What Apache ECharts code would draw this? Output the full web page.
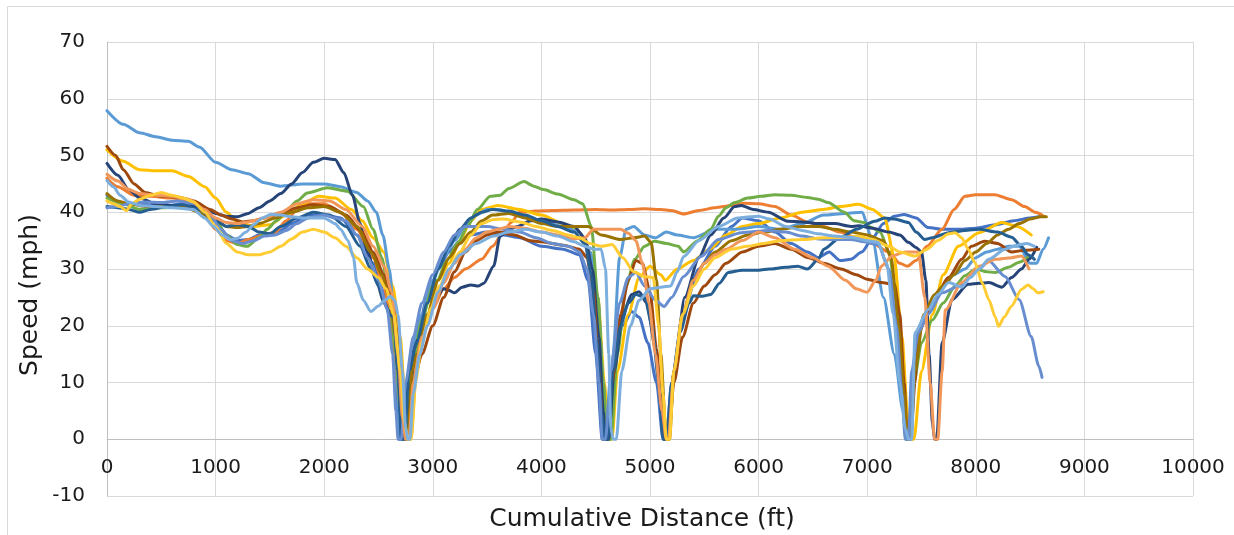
<!DOCTYPE html>
<html>
<head>
<meta charset="utf-8">
<script src="https://cdn.jsdelivr.net/npm/echarts@6/dist/echarts.min.js"></script>
<style>
html,body{margin:0;padding:0;background:#fff;}
#chart{width:1234px;height:535px;}
</style>
</head>
<body>
<div id="chart"></div>
<script>
// ---- Data (cumulative distance ft, speed mph) ----
const xTicks = [0,1000,2000,3000,4000,5000,6000,7000,8000,9000,10000];
const yTicks = [-10,0,10,20,30,40,50,60,70];
const seriesNames = ["Run 1","Run 2","Run 3","Run 4","Run 5","Run 6","Run 7","Run 8","Run 9","Run 10","Run 11","Run 12","Run 13"];
const seriesColors = ["#4472C4","#ED7D31","#FFC000","#5B9BD5","#70AD47","#264478","#9E480E","#997300","#255E91","#698ED0","#F1975A","#FFCD33","#7CAFDD"];

const run1 = [[0,43],[150,41.5],[300,41.5],[500,41],[700,41.5],[850,40.5],[1000,38.5],[1100,36],[1200,35],[1300,35.2],[1400,36],[1500,36.2],[1600,36.8],[1700,38],[1850,39.5],[2000,39.5],[2150,39],[2300,36],[2450,31],[2550,26],[2620,20],[2660,10],[2690,0],[2720,0],[2760,10],[2850,18],[2950,25],[3050,30],[3150,33],[3250,35],[3350,36],[3500,36.5],[3650,36],[3800,35.5],[4000,34],[4200,33.5],[4350,32.5],[4430,28],[4500,15],[4560,0],[4600,0],[4650,12],[4750,20],[4830,22.5],[4900,21.5],[4980,17],[5060,10],[5120,0],[5150,0],[5200,10],[5300,22],[5450,30],[5600,34],[5750,37.5],[5850,39],[6000,38.5],[6150,36.5],[6300,34.5],[6450,33],[6550,32],[6650,33],[6750,31.5],[6850,31.7],[6950,33],[7050,35.5],[7150,38],[7250,39.3],[7340,39.6],[7450,39],[7560,37.3],[7700,37],[7850,37],[8000,37.2],[8180,37.8],[8350,38.5],[8500,39],[8600,39.3]];

const run2 = [[0,46],[100,44.5],[250,43],[400,42.8],[600,42.5],[750,42],[900,39.5],[1000,37],[1100,35],[1200,34.5],[1300,35.2],[1450,36],[1550,36.5],[1650,38.5],[1750,40.5],[1850,41.5],[2000,41.5],[2150,40],[2300,37],[2450,32],[2550,27],[2620,20],[2680,8],[2720,0],[2750,0],[2800,10],[2900,18],[3000,23],[3100,26.5],[3200,28.5],[3300,30],[3450,31.7],[3550,34],[3650,36.5],[3720,38.2],[3800,40],[3950,40.2],[4100,40.3],[4300,40.4],[4500,40.5],[4650,40.4],[4800,40.5],[4950,40.6],[5100,40.5],[5200,40.3],[5310,39.7],[5450,40.3],[5600,40.8],[5750,41.2],[5870,41.6],[6000,41.5],[6150,41],[6300,39.5],[6450,38.3],[6600,37.5],[6750,36.5],[6900,35.5],[7050,34.5],[7200,33],[7300,31],[7370,30.5],[7450,31.5],[7550,34],[7690,37],[7800,40.5],[7900,42.8],[8000,43.1],[8175,43.1],[8330,42.2],[8450,41],[8550,40],[8625,39.3]];

const run3 = [[0,51],[150,49],[300,47.5],[450,47.3],[600,47.3],[750,46.3],[900,44.5],[1000,42.5],[1100,40],[1200,38.3],[1350,37.5],[1500,37.8],[1650,39.5],[1800,41.5],[1950,42.8],[2100,42.5],[2250,40.5],[2350,38.5],[2450,35.5],[2550,33],[2630,27],[2700,18],[2750,5],[2780,0],[2800,0],[2850,12],[2950,22],[3050,28],[3150,31],[3250,35],[3350,38.5],[3450,40.5],[3600,41.2],[3800,40.5],[4000,39.5],[4200,38],[4350,36.5],[4450,33],[4520,25],[4580,10],[4620,0],[4650,0],[4700,12],[4800,22],[4900,28.5],[5000,30.5],[5100,29],[5140,28],[5250,30],[5400,31.5],[5550,33.5],[5700,36],[5850,37.5],[6000,38],[6200,39],[6400,40],[6600,40.5],[6750,41],[6920,41.4],[7050,40.5],[7160,39],[7250,32],[7320,18],[7370,5],[7400,0],[7430,0],[7500,12],[7600,22],[7700,29],[7840,34],[8030,36.4],[8240,38.2],[8380,37.5],[8510,36]];

const run4 = [[0,57.9],[150,55.5],[300,54],[450,53.3],[600,52.7],[750,52.5],[850,51.5],[1000,48.8],[1150,47.5],[1300,46.8],[1450,45.2],[1600,44.6],[1800,45],[2000,45],[2150,44.5],[2300,43.5],[2400,42],[2480,40],[2540,36],[2600,30],[2650,20],[2680,8],[2700,0],[2720,0],[2750,8],[2800,15],[2900,22],[3000,28],[3100,32],[3200,35],[3300,37.5],[3400,39.5],[3500,40.5],[3600,40.5],[3800,39.5],[4000,38.5],[4200,37.5],[4350,36.5],[4450,33],[4520,25],[4570,10],[4600,0],[4630,0],[4660,15],[4720,32],[4780,37],[4850,37.5],[4950,36],[5050,35.5],[5150,36.5],[5250,36],[5400,35.5],[5600,37],[5800,37],[6000,37.5],[6200,37],[6400,38],[6600,39.5],[6800,39.8],[6950,40],[7050,35],[7150,25],[7250,15],[7330,5],[7370,0],[7400,0],[7430,10],[7500,20],[7600,24],[7700,27],[7800,29],[7900,30],[8000,32],[8100,33],[8200,33.5],[8300,34],[8400,34],[8500,31],[8560,31],[8620,33.5],[8670,35.5]];

const run5 = [[0,42.5],[150,41.5],[300,40.5],[500,40.8],[700,41],[850,40.5],[1000,38.5],[1100,36],[1200,34.3],[1290,34],[1400,35.5],[1475,37],[1560,38.5],[1660,40.5],[1750,42],[1845,43.4],[2030,44.3],[2215,43.7],[2360,41],[2450,37],[2530,32],[2600,25],[2660,15],[2700,5],[2730,0],[2760,0],[2800,12],[2900,21],[3000,27],[3040,28],[3130,31.5],[3230,34.6],[3320,37.5],[3410,40.5],[3530,42.8],[3620,43],[3700,44.2],[3840,45.4],[3930,44.6],[4020,44],[4150,43.2],[4300,42.2],[4380,41.5],[4460,37.5],[4520,25],[4570,10],[4610,0],[4640,0],[4700,15],[4780,27],[4860,31.7],[4950,34],[5040,34.9],[5150,34.5],[5260,34],[5310,33],[5440,35],[5560,37],[5630,39.3],[5700,40.8],[5780,41.7],[5900,42.5],[6020,42.8],[6150,43.1],[6300,43],[6450,42.6],[6550,42.3],[6640,41.7],[6790,40],[6880,38.5],[6970,38.2],[7040,37.3],[7120,36.5],[7200,33],[7270,25],[7320,12],[7360,0],[7390,0],[7430,10],[7500,17],[7600,21],[7700,24],[7810,27],[7900,28.8],[8000,30],[8100,29.5],[8180,29.4],[8300,30.3],[8400,31.2],[8490,32.2]];

const run6 = [[0,48.6],[100,46.5],[200,44],[300,42.5],[450,41.5],[600,41.2],[750,41.3],[900,40.5],[1000,39.8],[1100,39.3],[1200,39.2],[1300,39.8],[1400,40.8],[1500,42],[1600,43.3],[1700,45],[1800,47],[1900,48.8],[2000,49.5],[2100,49.3],[2180,47],[2260,43],[2330,38],[2400,33],[2480,28],[2550,24],[2600,22.5],[2640,22],[2680,12],[2710,3],[2740,0],[2770,0],[2800,10],[2830,16],[2860,17.5],[2900,17.5],[2950,21],[3030,25],[3100,26.5],[3150,26.2],[3200,25.8],[3270,26.8],[3350,27.2],[3420,27],[3470,27.5],[3560,30.5],[3620,35.8],[3700,37],[3780,37.5],[3900,38.5],[4000,38.8],[4150,38.3],[4300,37.5],[4400,35.5],[4470,30],[4530,18],[4570,5],[4590,0],[4620,0],[4670,12],[4750,22],[4830,25.5],[4900,26],[4970,24],[5050,16],[5110,5],[5140,0],[5170,0],[5220,12],[5320,25],[5450,32],[5560,36],[5680,39],[5780,41],[5840,41.2],[5950,40.5],[6090,40],[6270,38.4],[6400,38.3],[6550,38],[6700,38],[6850,37.5],[6920,37.6],[7050,37.2],[7200,36.5],[7300,36],[7380,34.7],[7450,33.8],[7500,33],[7540,28],[7570,15],[7600,3],[7620,0],[7640,0],[7690,17],[7780,24.6],[7930,27.3],[8030,27.5],[8120,27.6],[8240,26.8],[8330,28.5],[8420,30],[8490,31.7],[8560,33.8]];

const run7 = [[0,51.6],[80,50],[150,47.5],[250,45],[350,43.5],[500,42.8],[650,42.7],[800,42],[950,40.5],[1050,39.5],[1150,38.8],[1250,38.3],[1350,38.5],[1450,39],[1600,39.8],[1750,40.8],[1900,41.3],[2050,41],[2200,39.5],[2350,36.5],[2450,33],[2550,29],[2620,25],[2680,18],[2720,8],[2750,0],[2780,0],[2820,10],[2900,15],[3000,20],[3100,25],[3200,29.5],[3300,33],[3400,35],[3500,36],[3600,36.5],[3750,36],[3900,35],[4000,34.8],[4200,34.2],[4350,33.5],[4420,32],[4480,26],[4530,12],[4570,0],[4600,0],[4650,10],[4730,22],[4800,28],[4870,31.5],[4930,31],[5000,26],[5060,16],[5110,5],[5140,0],[5170,0],[5220,10],[5300,18],[5400,24],[5500,27],[5600,29],[5700,31],[5850,33],[6000,34],[6150,34.5],[6300,33.5],[6460,32],[6600,31],[6760,30],[6900,29],[7000,28.2],[7130,27.6],[7250,27.3],[7300,22],[7340,10],[7370,0],[7400,0],[7440,10],[7470,18.8],[7600,24],[7750,28.5],[7870,31.7],[7960,34],[8080,34.9],[8200,34.5],[8330,33],[8450,33.3],[8580,33.5]];

const run8 = [[0,43.3],[100,42],[200,41.5],[350,41],[500,41],[700,41],[850,40],[1000,38.5],[1100,37.5],[1200,37.3],[1300,37.5],[1400,38],[1550,39],[1700,40],[1850,40.8],[2000,41],[2150,40],[2300,37.5],[2430,33],[2530,29],[2600,25],[2660,18],[2720,5],[2750,0],[2770,0],[2810,12],[2850,15],[2950,22],[3050,28],[3150,32],[3250,34.5],[3350,36.5],[3450,38.5],[3550,39.5],[3700,39.8],[3850,39],[4000,38],[4150,37.5],[4300,37.5],[4430,37.5],[4550,36],[4730,35.2],[4850,35.5],[4950,35.8],[5010,34.7],[5060,28],[5100,15],[5140,3],[5160,0],[5180,0],[5220,12],[5300,22],[5400,28],[5500,31],[5600,33],[5750,35],[5900,36],[6050,36.5],[6200,37],[6400,37.5],[6550,37.5],[6700,37],[6850,36.5],[7000,36],[7150,35],[7220,32],[7290,20],[7340,8],[7370,0],[7400,0],[7440,12],[7520,22],[7620,25.5],[7700,27],[7800,29],[7900,31.5],[8000,33],[8100,34.5],[8200,36],[8300,37],[8400,38],[8500,38.8],[8600,39.2],[8650,39.2]];

const run9 = [[0,41],[100,40.8],[200,40.5],[300,40],[400,40.5],[550,41],[700,41.3],[850,40.5],[1000,38.5],[1100,37.5],[1200,37.8],[1300,37.5],[1400,36.5],[1500,36.2],[1600,37.5],[1750,39],[1900,40],[2050,39.5],[2200,37.5],[2330,34],[2430,30],[2500,27],[2560,24],[2600,22],[2640,21.5],[2680,12],[2710,0],[2740,0],[2780,12],[2850,17],[2950,24],[3050,30],[3150,34],[3250,37],[3350,39],[3450,40],[3550,40.5],[3700,40.2],[3850,39.5],[4000,38.5],[4150,37.5],[4300,36.5],[4400,34.5],[4460,29],[4510,17],[4560,4],[4580,0],[4610,0],[4660,12],[4730,20],[4800,24],[4870,25.5],[4950,25],[5020,20],[5080,10],[5120,0],[5150,0],[5200,10],[5280,19],[5360,24],[5400,25.3],[5480,25.2],[5560,25.5],[5640,27.5],[5720,29.4],[5850,29.8],[6000,29.8],[6100,30],[6250,30.3],[6360,30.5],[6450,30],[6550,31.7],[6600,33.5],[6750,35.5],[6900,37],[7070,38.4],[7160,39],[7250,38.8],[7380,38.2],[7450,36.5],[7530,35.2],[7600,35.5],[7750,36.4],[7900,36.8],[8030,37],[8200,36.5],[8330,35.6],[8420,34],[8480,32.5],[8540,31.7]];

const run10 = [[0,40.8],[100,41],[200,41.5],[350,41.8],[500,41.7],[650,42],[800,41.5],[950,39.5],[1050,37],[1150,35],[1250,34.5],[1350,35],[1450,35.8],[1550,36],[1650,36.8],[1750,38],[1850,39],[2000,39.5],[2100,39],[2200,38.5],[2300,36],[2400,32],[2500,28],[2580,23],[2630,15],[2660,5],[2680,0],[2710,0],[2750,10],[2820,18],[2900,24],[3000,29],[3100,33],[3200,36],[3300,37.5],[3400,37.5],[3500,37.5],[3650,37],[3800,36.5],[3950,35.5],[4100,34.5],[4250,34],[4350,33],[4420,30],[4480,22],[4530,10],[4560,0],[4590,0],[4640,12],[4720,24],[4800,28.5],[4870,29.4],[4950,27],[5050,24.5],[5130,23.4],[5200,25],[5310,28.7],[5470,32.2],[5630,35.2],[5840,36.4],[6090,36.8],[6250,36.5],[6400,35.8],[6550,35.3],[6700,35.2],[6850,35.2],[6970,34.8],[7100,34.3],[7200,30],[7270,20],[7320,8],[7350,0],[7380,0],[7410,12],[7470,18.8],[7560,22],[7690,25.8],[7850,27],[8030,30],[8120,31.4],[8270,28.7],[8400,24.6],[8510,18.1],[8580,12.9],[8610,10.9]];

const run11 = [[0,46.7],[100,45.5],[200,44],[300,43.3],[450,43],[600,42.8],[750,42.3],[900,40.5],[1000,39],[1100,38.2],[1200,38],[1300,38.3],[1450,39],[1600,40],[1750,41.5],[1900,42.2],[2050,42],[2200,40.5],[2350,37.5],[2450,34],[2550,30.5],[2620,26],[2680,15],[2720,4],[2750,0],[2780,0],[2820,10],[2900,18],[3000,23],[3100,27.5],[3200,31],[3300,33.5],[3400,35.5],[3500,36.5],[3600,37],[3700,37.5],[3850,37.2],[4000,36.5],[4150,36],[4300,35.3],[4400,35.5],[4480,37],[4620,37],[4730,37],[4800,36.3],[4870,35],[4930,31],[4990,24],[5050,15],[5110,5],[5150,0],[5170,0],[5220,12],[5300,22],[5400,28],[5500,31],[5600,32.5],[5700,33.5],[5850,35],[6000,36.5],[6150,35.5],[6330,33.5],[6500,32],[6640,30.5],[6800,28],[6900,26.5],[7000,25.9],[7080,28],[7130,30.5],[7230,32.3],[7350,33],[7470,33],[7530,25],[7580,10],[7620,0],[7650,0],[7690,12],[7720,22.8],[7870,27.6],[8030,30.5],[8180,31.7],[8330,32],[8420,32.3],[8490,30]];

const run12 = [[0,42],[60,41.5],[120,41],[180,40.3],[230,41.5],[300,42.3],[400,43],[500,43.5],[600,43],[700,42.5],[800,41.8],[900,40],[1000,37.5],[1100,34.5],[1200,33],[1300,32.5],[1400,32.5],[1500,33],[1600,34],[1700,35.3],[1800,36.5],[1900,37],[2000,36.5],[2100,35.5],[2200,34],[2300,32],[2400,30],[2500,28.5],[2570,26.5],[2640,22],[2700,12],[2740,3],[2770,0],[2800,0],[2840,10],[2900,17],[2980,23],[3060,27],[3150,30],[3250,33],[3350,36],[3450,38],[3550,38.7],[3650,38.8],[3800,38.3],[3950,37.5],[4100,36.8],[4250,36],[4350,35.5],[4450,34.5],[4550,34],[4650,34.3],[4750,32],[4850,29.5],[4950,28.7],[5030,28.5],[5080,20],[5120,8],[5150,0],[5180,0],[5220,12],[5300,22],[5400,27],[5500,30],[5600,32],[5750,33.5],[5900,34],[6050,34.5],[6200,35],[6400,35.2],[6600,35.5],[6800,35.6],[6920,35.8],[7050,35.2],[7200,34],[7300,33],[7440,32.3],[7550,33.5],[7650,35],[7750,36.2],[7810,36.4],[7870,35.5],[7930,33.5],[7990,31.2],[8060,27.5],[8120,24.6],[8180,21.5],[8210,19.9],[8260,21.5],[8330,23.5],[8420,26.4],[8480,27.2],[8530,26.5],[8570,25.8],[8620,26]];

const run13 = [[0,45.6],[60,44.5],[120,43],[200,41.8],[300,41.2],[450,41],[600,40.8],[795,40.5],[900,39],[980,37.5],[1060,36],[1135,35.2],[1200,35.4],[1280,36.5],[1350,37.8],[1430,39],[1505,39.6],[1600,39.5],[1700,39.2],[1800,39],[1900,39],[2000,39],[2100,38],[2150,37],[2220,35],[2270,32],[2300,27.6],[2360,24.5],[2430,22.5],[2500,23.5],[2560,24.5],[2610,25.2],[2650,24.5],[2680,22],[2720,12],[2750,2],[2770,0],[2790,0],[2820,8],[2880,15],[2950,20],[3050,26],[3150,30],[3250,32.5],[3400,34.5],[3560,35.8],[3700,36.5],[3850,37],[4000,36.5],[4150,35.8],[4300,34.8],[4400,34],[4480,33.5],[4550,33.5],[4590,30],[4620,15],[4640,2],[4660,0],[4690,0],[4740,12],[4820,20],[4900,24.5],[5000,26.5],[5100,26.8],[5190,27],[5250,29.5],[5310,32.2],[5450,35],[5630,37.5],[5810,39],[6000,39.3],[6100,38.8],[6250,37.5],[6400,36.8],[6550,36.2],[6700,35.8],[6850,35.6],[7000,35],[7100,34.7],[7180,31],[7240,22],[7300,10],[7350,2],[7380,0],[7410,0],[7440,18.8],[7560,22.8],[7650,25.5],[7750,27.6],[7870,26.8],[7950,28.5],[8030,30],[8120,31.7],[8270,33.5],[8380,34.2],[8470,34.5],[8540,34]];

const runData = [run1,run2,run3,run4,run5,run6,run7,run8,run9,run10,run11,run12,run13];

// ---- Chart ----
const chart = echarts.init(document.getElementById('chart'), null, {renderer:'canvas'});
const FONT = '"DejaVu Sans", sans-serif';
const TEXT = '#1a1a1a';
const GRID_TOP = 42, GRID_BOTTOM = 39, CHART_H = 535;
const plotH = CHART_H - GRID_TOP - GRID_BOTTOM;
const yMin = yTicks[0], yMax = yTicks[yTicks.length - 1];
// distance (px) from the bottom of the plot up to the y = 0 line, where the x axis crosses
const zeroOffset = plotH * (0 - yMin) / (yMax - yMin);

const series = runData.map((d, i) => ({
  name: seriesNames[i],
  type: 'line',
  data: d,
  showSymbol: false,
  symbol: 'none',
  smooth: 0.25,
  smoothMonotone: 'x',
  clip: true,
  lineStyle: { color: seriesColors[i], width: 3, cap: 'round', join: 'round' },
  itemStyle: { color: seriesColors[i] },
  emphasis: { disabled: true },
  z: 2 + i
}));

chart.setOption({
  animation: false,
  backgroundColor: '#ffffff',
  grid: { left: 107, right: 41, top: GRID_TOP, bottom: GRID_BOTTOM, containLabel: false },
  xAxis: {
    type: 'value',
    position: 'bottom',
    offset: -zeroOffset,
    min: xTicks[0],
    max: xTicks[xTicks.length - 1],
    interval: xTicks[1] - xTicks[0],
    axisLine: { show: true, onZero: false, lineStyle: { color: '#BFBFBF', width: 1 } },
    axisTick: { show: false },
    axisLabel: { color: TEXT, fontFamily: FONT, fontSize: 20, margin: 19, formatter: v => String(v) },
    splitLine: { show: true, lineStyle: { color: '#D9D9D9', width: 1 } }
  },
  yAxis: {
    type: 'value',
    min: yMin,
    max: yMax,
    interval: yTicks[1] - yTicks[0],
    axisLine: { show: true, onZero: false, lineStyle: { color: '#BFBFBF', width: 1 } },
    axisTick: { show: false },
    axisLabel: { color: TEXT, fontFamily: FONT, fontSize: 20, margin: 22, formatter: v => String(v) },
    splitLine: { show: true, lineStyle: { color: '#D9D9D9', width: 1 } }
  },
  graphic: [
    { type: 'rect', silent: true, z: -10,
      shape: { x: 7.5, y: 6.5, width: 1240, height: 540 },
      style: { fill: 'none', stroke: '#D9D9D9', lineWidth: 1 } },
    { type: 'text', silent: true, x: 642, y: 519,
      style: { text: 'Cumulative Distance (ft)', fill: TEXT, font: '25px ' + FONT,
               textAlign: 'center', textVerticalAlign: 'middle' } },
    { type: 'text', silent: true, x: 30, y: 295, rotation: Math.PI / 2,
      style: { text: 'Speed (mph)', fill: TEXT, font: '25px ' + FONT,
               textAlign: 'center', textVerticalAlign: 'middle' } }
  ],
  series: series
});
</script>
</body>
</html>
